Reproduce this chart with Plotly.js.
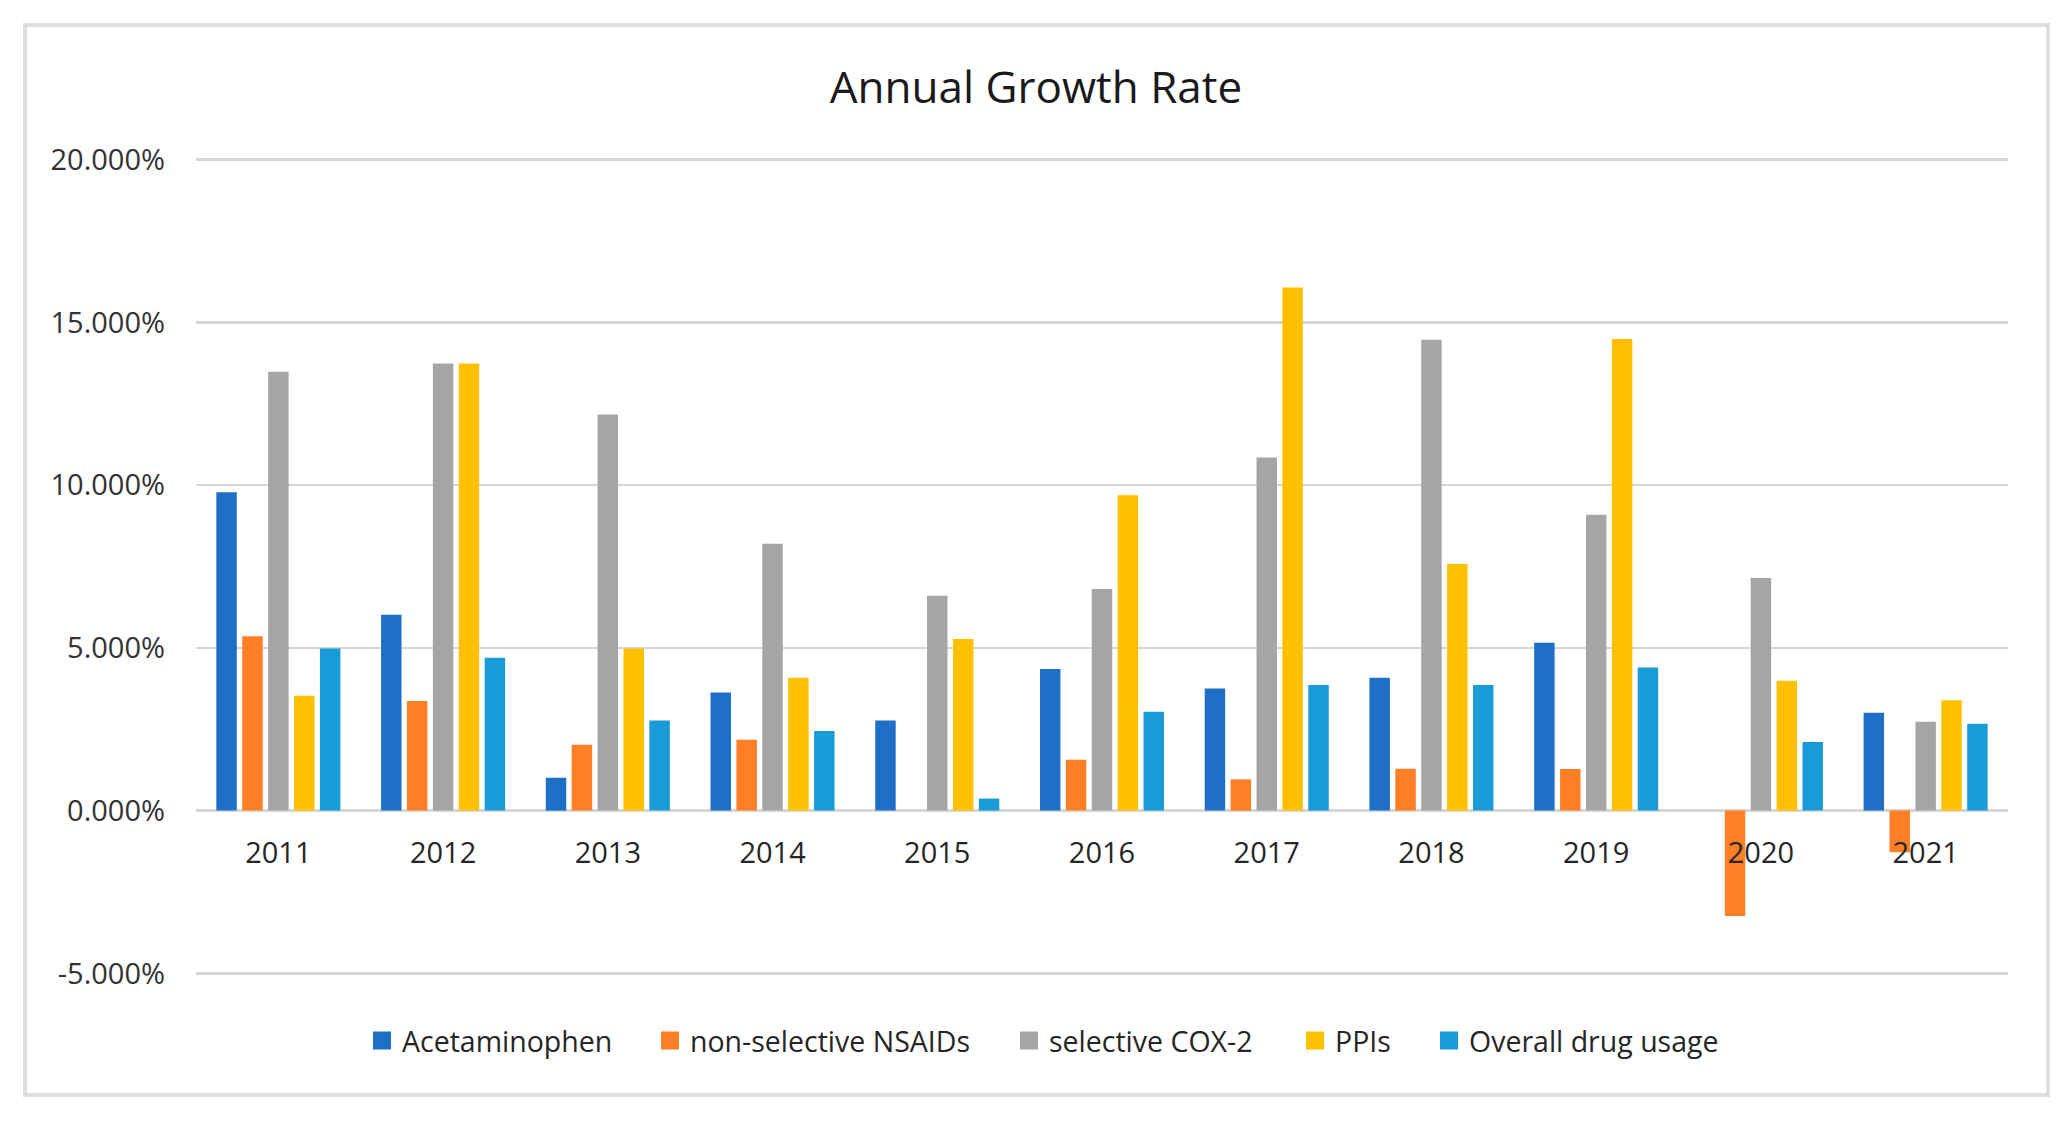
<!DOCTYPE html>
<html>
<head>
<meta charset="utf-8">
<script src="https://cdn.plot.ly/plotly-3.0.1.min.js"></script>
<style>
  html, body { margin: 0; padding: 0; background: #ffffff; }
  #chart { width: 2070px; height: 1124px; }
</style>
</head>
<body>
<div id="chart"></div>
<script>
// ---- Data ----
var years = ['2011', '2012', '2013', '2014', '2015', '2016', '2017', '2018', '2019', '2020', '2021'];
var seriesNames = ['Acetaminophen', 'non-selective NSAIDs', 'selective COX-2', 'PPIs', 'Overall drug usage'];
var acetaminophen = [9.78, 6.02, 1.01, 3.63, 2.77, 4.35, 3.75, 4.08, 5.16, null, 3.01];
var nonSelectiveNSAIDs = [5.36, 3.37, 2.02, 2.18, null, 1.56, 0.96, 1.29, 1.28, -3.24, -1.28];
var selectiveCOX2 = [13.48, 13.74, 12.17, 8.20, 6.60, 6.81, 10.85, 14.47, 9.09, 7.15, 2.73];
var ppis = [3.53, 13.74, 4.98, 4.08, 5.27, 9.69, 16.07, 7.58, 14.49, 3.99, 3.39];
var overallDrugUsage = [4.98, 4.70, 2.77, 2.45, 0.37, 3.04, 3.86, 3.86, 4.40, 2.11, 2.67];
var yTickVals = [-5, 0, 5, 10, 15, 20];
var yTickText = ['-5.000%', '0.000%', '5.000%', '10.000%', '15.000%', '20.000%'];

// ---- Styling ----
var colors = ['#1F6FC7', '#FF7F27', '#A5A5A5', '#FFC000', '#199BD8'];
var values = [acetaminophen, nonSelectiveNSAIDs, selectiveCOX2, ppis, overallDrugUsage];
var FONT = '"Open Sans", "Noto Sans", sans-serif';
// legend swatch centres (px, in the picture) for each series entry
var legendSwatchX = [382, 670, 1029, 1315, 1449];

var W = 2070, H = 1124;
var M = { l: 196, r: 62, t: 158, b: 149 };
var yRange = [-5.05, 20.05];
var plotW = W - M.l - M.r, plotH = H - M.t - M.b;
function px2paperX(px) { return (px - M.l) / plotW; }
function px2paperY(py) { return (H - M.b - py) / plotH; }

var traces = values.map(function (vals, i) {
  return {
    type: 'bar',
    name: seriesNames[i],
    x: years,
    y: vals,
    marker: { color: colors[i], line: { width: 0 } },
    showlegend: false,
    hoverinfo: 'x+y+name'
  };
});

// legend entries (one legend per entry so spacing can follow the reference)
seriesNames.forEach(function (nm, i) {
  traces.push({
    type: 'scatter',
    mode: 'markers',
    name: nm,
    x: [null],
    y: [null],
    marker: { symbol: 'square', size: 16, color: colors[i], line: { width: 2, color: colors[i] } },
    showlegend: true,
    legend: i === 0 ? 'legend' : 'legend' + (i + 1),
    hoverinfo: 'skip'
  });
});

var layout = {
  width: W,
  height: H,
  margin: M,
  paper_bgcolor: '#ffffff',
  plot_bgcolor: '#ffffff',
  font: { family: FONT, color: '#404040', size: 28 },
  title: {
    text: 'Annual Growth Rate',
    font: { family: FONT, size: 44, color: '#1a1a1a' },
    xref: 'container', x: 1036 / W, xanchor: 'center',
    yref: 'container', y: 1 - 88 / H, yanchor: 'middle'
  },
  barmode: 'group',
  bargap: 0.214,
  bargroupgap: 0.21,
  xaxis: {
    type: 'category',
    anchor: 'free',
    position: (0 - yRange[0]) / (yRange[1] - yRange[0]),
    showline: false,
    showgrid: false,
    ticks: '',
    ticklabelstandoff: 22,
    tickfont: { family: FONT, size: 29, color: '#262626' },
    fixedrange: true
  },
  yaxis: {
    range: yRange,
    tickvals: yTickVals,
    ticktext: yTickText,
    showgrid: true,
    gridcolor: '#d6d6d6',
    gridwidth: 2.4,
    zeroline: true,
    zerolinecolor: '#d6d6d6',
    zerolinewidth: 2.4,
    showline: false,
    ticks: '',
    ticklabelstandoff: 30,
    tickfont: { family: FONT, size: 29, color: '#333333' },
    fixedrange: true
  },
  showlegend: true,
  shapes: [{
    type: 'rect', xref: 'paper', yref: 'paper', layer: 'below',
    x0: px2paperX(25), x1: px2paperX(2048),
    y0: px2paperY(1095), y1: px2paperY(25),
    line: { color: '#dedede', width: 4 },
    fillcolor: 'rgba(0,0,0,0)'
  }]
};

legendSwatchX.forEach(function (cx, i) {
  var key = i === 0 ? 'legend' : 'legend' + (i + 1);
  layout[key] = {
    orientation: 'h',
    xref: 'container', x: (cx - 20) / W, xanchor: 'left',
    yref: 'container', y: 1 - 1041 / H, yanchor: 'middle',
    font: { family: FONT, size: 28.5, color: '#262626' },
    itemwidth: 30,
    itemsizing: 'trace',
    borderwidth: 0,
    bgcolor: 'rgba(0,0,0,0)'
  };
});

Plotly.newPlot('chart', traces, layout, { displayModeBar: false, staticPlot: true });
</script>
</body>
</html>
